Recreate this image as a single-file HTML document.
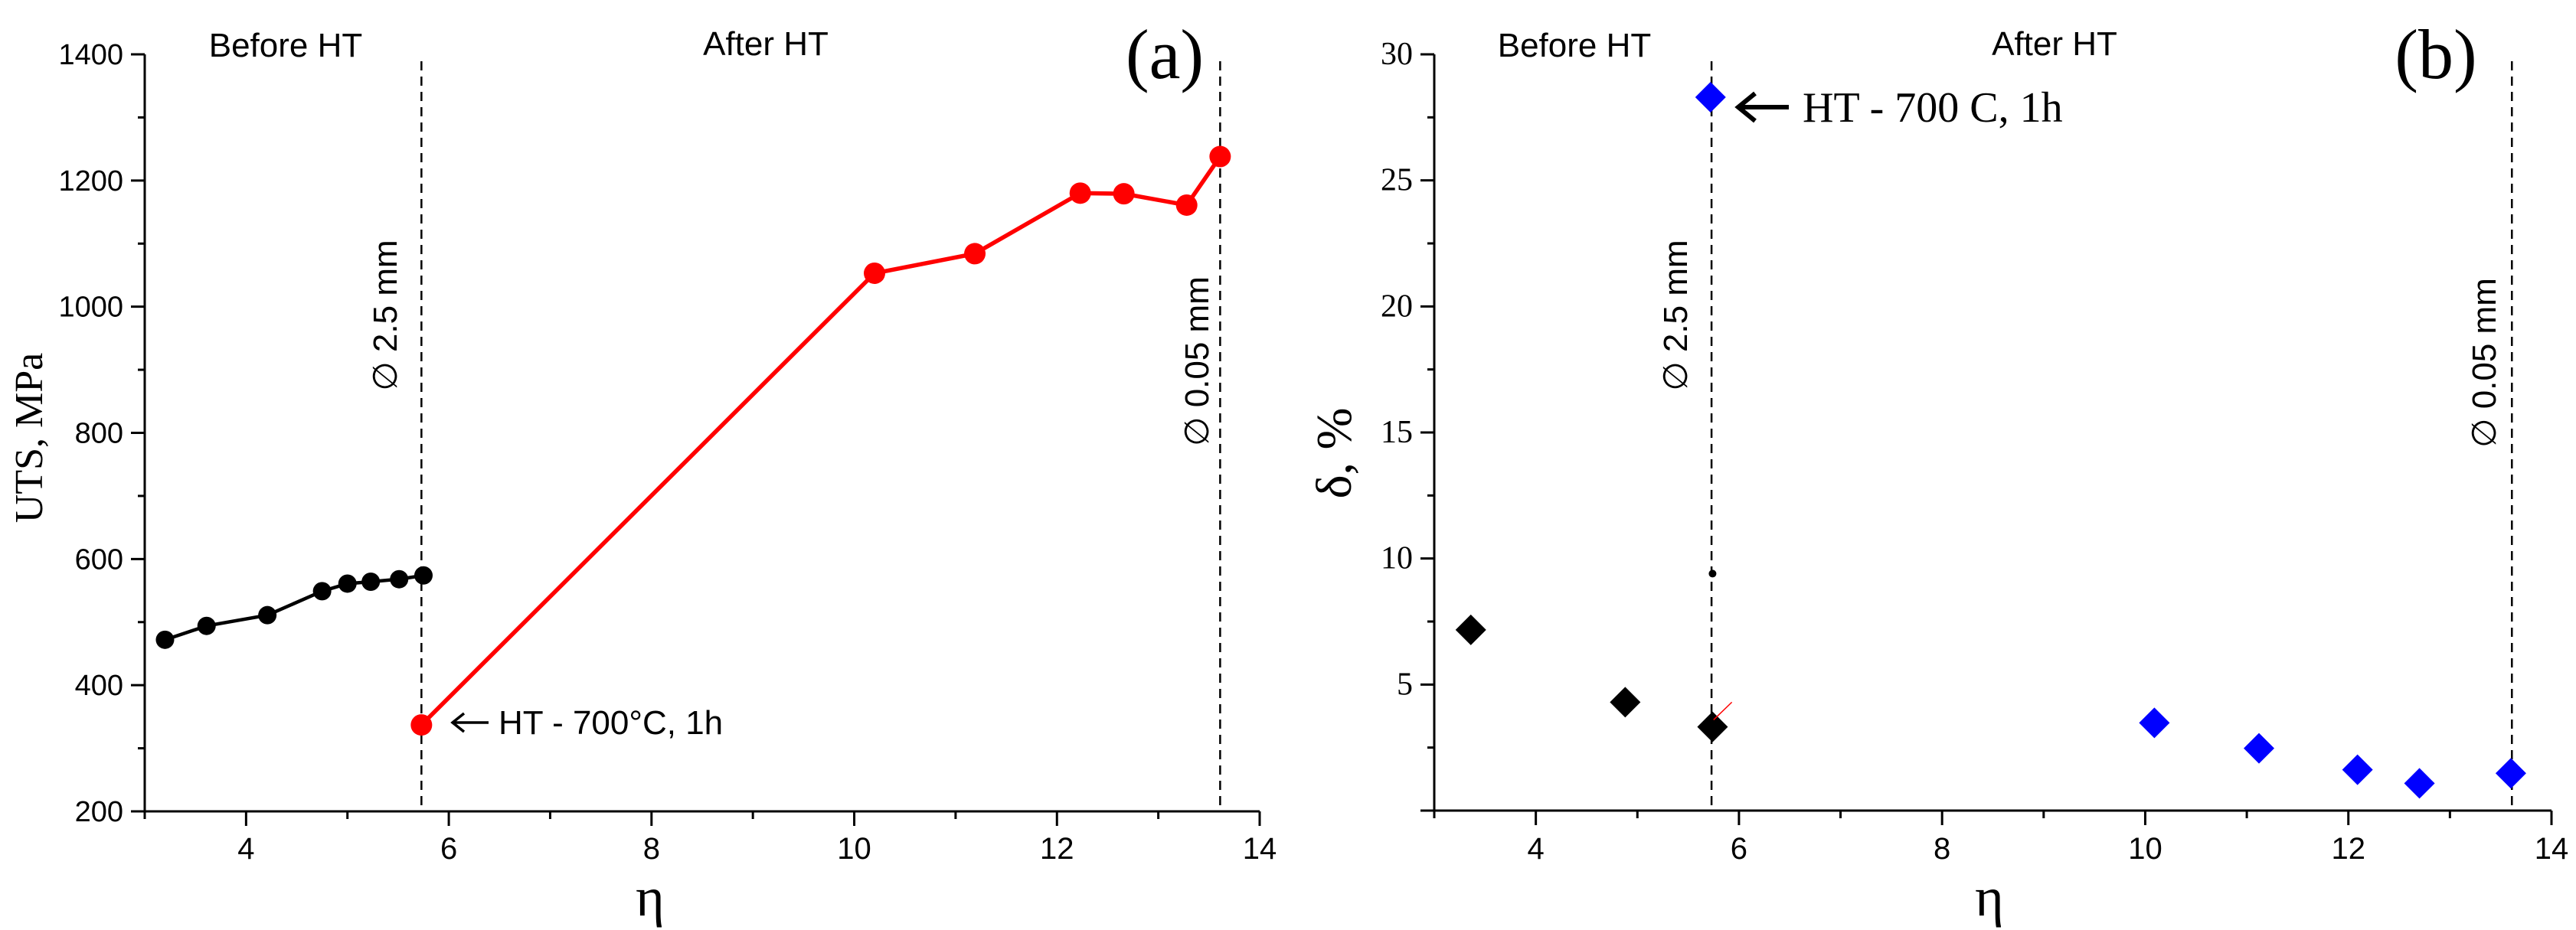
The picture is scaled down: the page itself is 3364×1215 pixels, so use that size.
<!DOCTYPE html>
<html><head><meta charset="utf-8">
<style>
html,body{margin:0;padding:0;background:#fff;}
svg{display:block;}
.sans{font-family:"Liberation Sans",Arial,sans-serif;}
.serif{font-family:"Liberation Serif","Times New Roman",serif;}
</style></head>
<body>
<svg id="fig" width="3364" height="1215" viewBox="0 0 3364 1215" xmlns="http://www.w3.org/2000/svg">
<g id="panelA"></g>
<g id="panelB"></g>
</svg>
<script>
// Panel (a) data
const etaBefore = [3.20, 3.61, 4.21, 4.75, 5.00, 5.23, 5.51, 5.75];
const utsBefore = [472, 494, 511, 549, 561, 564, 568, 574];
const etaAfter = [5.73, 10.20, 11.19, 12.23, 12.66, 13.28, 13.61];
const utsAfter = [337, 1053, 1084, 1180, 1179, 1161, 1238];
const xTicks = [4, 6, 8, 10, 12, 14];
const yTicksA = [200, 400, 600, 800, 1000, 1200, 1400];
// Panel (b) data
const etaDeltaBefore = [3.36, 4.88, 5.74];
const deltaBefore = [7.17, 4.30, 3.32];
const etaDeltaAfter = [5.72, 10.09, 11.12, 12.09, 12.70, 13.60];
const deltaAfter = [28.3, 3.48, 2.47, 1.62, 1.08, 1.48];
const yTicksB = [5, 10, 15, 20, 25, 30];
const dashEta = [5.73, 13.61];

const NS = 'http://www.w3.org/2000/svg';
function mk(parent, tag, attrs, text){
  const e = document.createElementNS(NS, tag);
  for (const k in attrs) e.setAttribute(k, attrs[k]);
  if (text !== undefined) e.textContent = text;
  parent.appendChild(e);
  return e;
}

function axes(g, x0, x1, yTop, yBot, ymin, ymax, yticks, yMinorStep, yLabelFont, yLabelSize){
  const sx = v => x0 + (v - 3) / 11 * (x1 - x0);
  const sy = v => yBot - (v - ymin) / (ymax - ymin) * (yBot - yTop);
  let a = mk(g, 'line', {x1:x0, y1:yTop, x2:x0, y2:yBot+10, stroke:'#000','stroke-width':3});
  
  
  a = mk(g, 'line', {x1:x0-18, y1:yBot, x2:x1, y2:yBot, stroke:'#000','stroke-width':3});
  
  
  for (let v = 3; v <= 14; v++) {
    const major = v % 2 === 0;
    const t = mk(g, 'line', {x1:sx(v), y1:yBot, x2:sx(v), y2:yBot + (major ? 19 : 10), stroke:'#000','stroke-width':3});
    
    
  }
  xTicks.forEach(v => {
    const t = mk(g, 'text', {x:sx(v), y:1122, 'text-anchor':'middle', 'font-size':40, class:'sans'}, String(v));
    
    
  });
  for (let v = ymin + yMinorStep; v <= ymax + 0.001; v += yMinorStep) {
    const major = yticks.some(t => Math.abs(t - v) < 1e-6);
    const t = mk(g, 'line', {x1:x0 - (major ? 18 : 9), y1:sy(v), x2:x0, y2:sy(v), stroke:'#000','stroke-width':3});
    
    
  }
  yticks.forEach(v => {
    const t = mk(g, 'text', {x:x0 - 28, y:sy(v) + 13, 'text-anchor':'end', 'font-size':yLabelSize, class:yLabelFont}, String(v));
    
    
  });
  return {sx, sy};
}

function dashLines(g, sx, yTop, yBot){
  dashEta.forEach(v => {
    const l = mk(g, 'line', {x1:sx(v), y1:yTop, x2:sx(v), y2:yBot, stroke:'#000','stroke-width':2.5,'stroke-dasharray':'12 8'});
    
    
  });
}

function rotText(g, x, y, str, name){
  const t = mk(g, 'text', {x:x, y:y, transform:`rotate(-90 ${x} ${y})`, 'text-anchor':'middle', 'font-size':44, class:'sans'}, str);
  
  
}

function label(g, x, y, str, size, cls, name, anchor){
  const t = mk(g, 'text', {x:x, y:y, 'font-size':size, class:cls, 'text-anchor':anchor || 'start'}, str);
  
  
  return t;
}

// ---------- Panel A ----------
(function(){
  const g = document.getElementById('panelA');
  const yTop = 71, yBot = 1060;
  const {sx, sy} = axes(g, 189, 1645, yTop, yBot, 200, 1400, yTicksA, 100, 'sans', 38);
  dashLines(g, sx, 80, yBot);
  const pb = etaBefore.map((e,i) => sx(e)+','+sy(utsBefore[i])).join(' ');
  let l = mk(g, 'polyline', {points:pb, fill:'none', stroke:'#000','stroke-width':4.5});
  
  
  const pa = etaAfter.map((e,i) => sx(e)+','+sy(utsAfter[i])).join(' ');
  l = mk(g, 'polyline', {points:pa, fill:'none', stroke:'#f00','stroke-width':5.5});
  
  
  etaBefore.forEach((e,i) => {
    const c = mk(g, 'circle', {cx:sx(e), cy:sy(utsBefore[i]), r:12, fill:'#000'});
    
    
  });
  etaAfter.forEach((e,i) => {
    const c = mk(g, 'circle', {cx:sx(e), cy:sy(utsAfter[i]), r:14, fill:'#f00'});
    
    
  });
  label(g, 373, 74, 'Before HT', 44, 'sans', 'before-ht-label', 'middle');
  label(g, 1000, 72, 'After HT', 44, 'sans', 'after-ht-label', 'middle');
  label(g, 1521, 102, '(a)', 92, 'serif', 'panel-a-letter', 'middle');
  rotText(g, 518, 412, '\u2205 2.5 mm', 'diameter-2-5mm-label');
  rotText(g, 1578, 472, '\u2205 0.05 mm', 'diameter-0-05mm-label');
  const ar = mk(g, 'path', {d:'M638,944 L592,944 M606,932 L591,944 L606,956', fill:'none', stroke:'#000','stroke-width':3.5});
  
  
  label(g, 651, 959, 'HT - 700\u00B0C, 1h', 44, 'sans', 'ht-annotation');
  const yl = mk(g, 'text', {x:55, y:572, transform:'rotate(-90 55 572)', 'text-anchor':'middle', 'font-size':52, class:'serif'}, 'UTS, MPa');
  
  
  label(g, 849, 1196, '\u03B7', 72, 'serif', 'x-axis-title', 'middle');
})();

// ---------- Panel B ----------
(function(){
  const g = document.getElementById('panelB');
  const yTop = 71, yBot = 1059;
  const {sx, sy} = axes(g, 1873, 3332, yTop, yBot, 0, 30, yTicksB, 2.5, 'serif', 42);
  dashLines(g, sx, 80, yBot);
  function diamond(x, y, color, name){
    const d = mk(g, 'polygon', {points:`${x},${y-20} ${x+20},${y} ${x},${y+20} ${x-20},${y}`, fill:color});
    
    
  }
  etaDeltaBefore.forEach((e,i) => diamond(sx(e), sy(deltaBefore[i]), '#000', 'delta-before-point'));
  etaDeltaAfter.forEach((e,i) => diamond(sx(e), sy(deltaAfter[i]), '#0000ff', 'delta-after-point'));
  const dot = mk(g, 'circle', {cx:sx(5.74), cy:sy(9.4), r:5, fill:'#000'});
  
  
  const rl = mk(g, 'line', {x1:sx(5.75), y1:sy(3.6), x2:sx(5.93), y2:sy(4.3), stroke:'#f00','stroke-width':1.5});
  
  
  label(g, 2056, 74, 'Before HT', 44, 'sans', 'before-ht-label', 'middle');
  label(g, 2683, 72, 'After HT', 44, 'sans', 'after-ht-label', 'middle');
  label(g, 3181, 102, '(b)', 92, 'serif', 'panel-b-letter', 'middle');
  rotText(g, 2203, 412, '\u2205 2.5 mm', 'diameter-2-5mm-label');
  rotText(g, 3259, 474, '\u2205 0.05 mm', 'diameter-0-05mm-label');
  const ar = mk(g, 'path', {d:'M2336,140 L2272,140 M2292,122 L2270,140 L2292,158', fill:'none', stroke:'#000','stroke-width':6});
  
  
  label(g, 2354, 159, 'HT - 700 C, 1h', 56, 'serif', 'ht-annotation');
  const yl = mk(g, 'text', {x:1764, y:592, transform:'rotate(-90 1764 592)', 'text-anchor':'middle', 'font-size':66, class:'serif'}, '\u03B4, %');
  
  
  label(g, 2598, 1196, '\u03B7', 72, 'serif', 'x-axis-title', 'middle');
})();
</script>
</body></html>
